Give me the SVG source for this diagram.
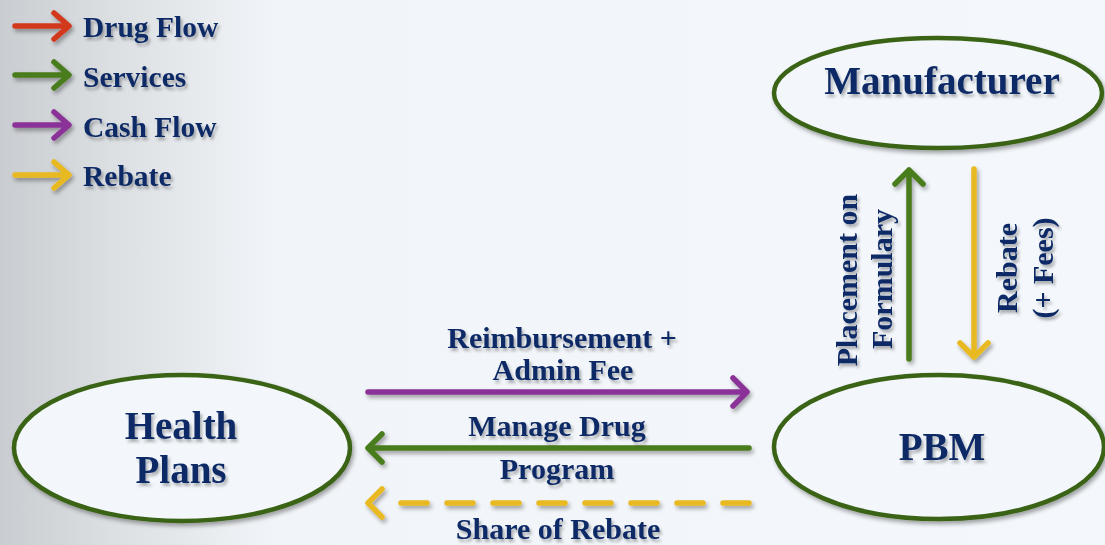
<svg xmlns="http://www.w3.org/2000/svg" width="1105" height="545" viewBox="0 0 1105 545">
<defs>
<linearGradient id="bg" x1="0" y1="0" x2="1105" y2="0" gradientUnits="userSpaceOnUse">
<stop offset="0" stop-color="#c9ccd0"/>
<stop offset="0.1" stop-color="#dcdfe2"/>
<stop offset="0.25" stop-color="#f1f4f8"/>
<stop offset="1" stop-color="#f4f8fc"/>
</linearGradient>
<filter id="sh" filterUnits="userSpaceOnUse" x="0" y="0" width="1105" height="545">
<feDropShadow dx="2" dy="3" stdDeviation="2" flood-color="#000" flood-opacity="0.35"/>
</filter>
<filter id="tsh" filterUnits="userSpaceOnUse" x="0" y="0" width="1105" height="545">
<feDropShadow dx="2" dy="3" stdDeviation="1.5" flood-color="#000" flood-opacity="0.3"/>
</filter>
</defs>
<style>
.node{fill:#f3f7fb;stroke:#3a6316;stroke-width:4.5;filter:url(#sh)}
.t{font-family:"Liberation Serif","Times New Roman",serif;font-weight:bold;fill:#0e2b66}
.f{filter:url(#tsh)}
.nt{font-size:39px;text-anchor:middle}
.lt{font-size:30px;text-anchor:middle}
.lg{font-size:29.5px}
.a{fill:none;stroke-width:5.5;stroke-linecap:round;stroke-linejoin:round;filter:url(#sh)}
.red{stroke:#d2381d}
.grn{stroke:#4a7b1d}
.pur{stroke:#8a3397}
.yel{stroke:#e9b921}
</style>
<rect x="0" y="0" width="1105" height="545" fill="url(#bg)"/>

<g id="legend">
<path class="a red" d="M15 26H68M54 13L69 26L54 39"/>
<text class="t f lg" x="83" y="37">Drug Flow</text>
<path class="a grn" d="M15 75H68M54 62L69 75L54 88"/>
<text class="t f lg" x="83" y="87">Services</text>
<path class="a pur" d="M15 125H68M54 112L69 125L54 138"/>
<text class="t f lg" x="83" y="137">Cash Flow</text>
<path class="a yel" d="M15 175H68M54 162L69 175L54 188"/>
<text class="t f lg" x="83" y="186">Rebate</text>
</g>

<g id="manufacturer">
<ellipse class="node" cx="938" cy="93" rx="164" ry="55"/>
<text class="t f nt" x="942" y="94">Manufacturer</text>
</g>

<g id="pbm">
<ellipse class="node" cx="939" cy="447" rx="165" ry="72"/>
<text class="t f nt" x="942" y="460">PBM</text>
</g>

<g id="health-plans">
<ellipse class="node" cx="182" cy="448" rx="168" ry="73"/>
<text class="t f nt" x="181" y="439">Health</text>
<text class="t f nt" x="181" y="483">Plans</text>
</g>

<g id="connectors">
<path class="a pur" d="M368 392H747M733 378L747 392L733 406"/>
<path class="a grn" d="M749 448H368M382 434L368 448L382 462"/>
<path class="a yel" d="M749 503H390" stroke-dasharray="26 20" stroke-linecap="butt"/>
<path class="a yel" d="M382 489L368 503L382 517"/>
<path class="a grn" d="M909 359V170M895 184L909 170L923 184"/>
<path class="a yel" d="M974 169V357M960 343L974 357L988 343"/>
</g>

<g id="labels">
<text class="t f lt" x="562" y="348">Reimbursement +</text>
<text class="t f lt" x="563" y="380">Admin Fee</text>
<text class="t f lt" x="557" y="436">Manage Drug</text>
<text class="t f lt" x="557" y="479">Program</text>
<text class="t f lt" x="558" y="539">Share of Rebate</text>
<g class="f">
<text class="t lt" transform="translate(857 280) rotate(-90)">Placement on</text>
<text class="t lt" transform="translate(892 279) rotate(-90)">Formulary</text>
<text class="t lt" transform="translate(1017 268) rotate(-90)">Rebate</text>
<text class="t lt" transform="translate(1053 268) rotate(-90)">(+ Fees)</text>
</g>
</g>
</svg>
